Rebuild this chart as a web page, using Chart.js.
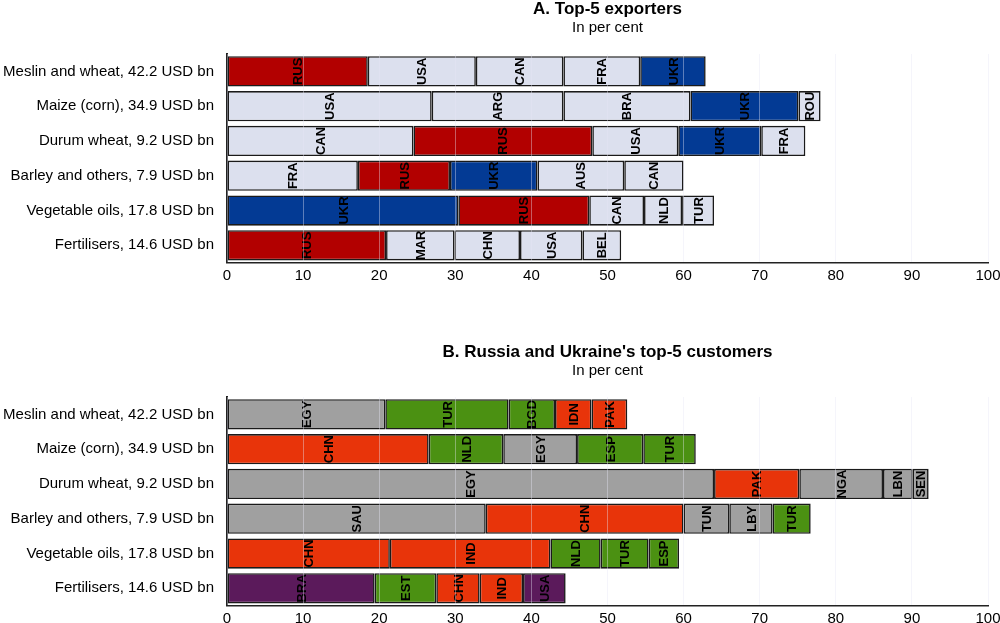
<!DOCTYPE html>
<html>
<head>
<meta charset="utf-8">
<script src="https://cdn.jsdelivr.net/npm/chart.js@4/dist/chart.umd.min.js"></script>
<style>
  html, body { margin: 0; padding: 0; background: #fff; overflow: hidden; }
  .box { position: absolute; left: 0; width: 1000px; height: 300px; }
</style>
</head>
<body>
<div class="box" style="top:0"><canvas id="exportersChart"></canvas></div>
<div class="box" style="top:343px"><canvas id="customersChart"></canvas></div>
<script>
// Data (shares in per cent)
const categories = [
    'Meslin and wheat, 42.2 USD bn',
    'Maize (corn), 34.9 USD bn',
    'Durum wheat, 9.2 USD bn',
    'Barley and others, 7.9 USD bn',
    'Vegetable oils, 17.8 USD bn',
    'Fertilisers, 14.6 USD bn'
];

const exporterCodes = [
    ['RUS', 'USA', 'CAN', 'FRA', 'UKR'],
    ['USA', 'ARG', 'BRA', 'UKR', 'ROU'],
    ['CAN', 'RUS', 'USA', 'UKR', 'FRA'],
    ['FRA', 'RUS', 'UKR', 'AUS', 'CAN'],
    ['UKR', 'RUS', 'CAN', 'NLD', 'TUR'],
    ['RUS', 'MAR', 'CHN', 'USA', 'BEL']
];
const exporterShares = [
    [18.5, 14.2, 11.5, 10.1, 8.6],
    [26.9, 17.3, 16.7, 14.2, 2.9],
    [24.5, 23.5, 11.3, 10.9, 5.8],
    [17.2, 12.1, 11.5, 11.4, 7.8],
    [30.4, 17.2, 7.2, 5.0, 4.2],
    [20.9, 9.0, 8.6, 8.2, 5.1]
];

const customerCodes = [
    ['EGY', 'TUR', 'BGD', 'IDN', 'PAK'],
    ['CHN', 'NLD', 'EGY', 'ESP', 'TUR'],
    ['EGY', 'PAK', 'NGA', 'LBN', 'SEN'],
    ['SAU', 'CHN', 'TUN', 'LBY', 'TUR'],
    ['CHN', 'IND', 'NLD', 'TUR', 'ESP'],
    ['BRA', 'EST', 'CHN', 'IND', 'USA']
];
const customerShares = [
    [20.8, 16.2, 6.1, 4.8, 4.7],
    [26.5, 9.8, 9.7, 8.7, 6.9],
    [64.0, 11.2, 11.0, 3.9, 2.1],
    [34.0, 26.0, 6.0, 5.7, 5.0],
    [21.4, 21.1, 6.6, 6.3, 4.0],
    [19.4, 8.1, 5.7, 5.7, 5.6]
];

// Colours
const LIGHT = '#dce0ee';
const exporterColours = { RUS: '#b20000', UKR: '#033a94' };
const GREY = '#a0a0a0', GREEN = '#4b9112', ORANGE = '#e8340a', PURPLE = '#5b1a5b';
const customerColours = {
    EGY: GREY, SAU: GREY, TUN: GREY, LBY: GREY, NGA: GREY, LBN: GREY, SEN: GREY,
    TUR: GREEN, BGD: GREEN, NLD: GREEN, ESP: GREEN, EST: GREEN,
    CHN: ORANGE, IND: ORANGE, IDN: ORANGE, PAK: ORANGE,
    BRA: PURPLE, USA: PURPLE
};

const FONT = "'Liberation Sans', Arial, sans-serif";

// draws the country code rotated inside each segment
const segmentLabels = {
    id: 'segmentLabels',
    afterDatasetsDraw(chart) {
        const ctx = chart.ctx;
        ctx.save();
        ctx.font = 'bold 13px ' + FONT;
        ctx.fillStyle = '#000';
        ctx.textAlign = 'center';
        ctx.textBaseline = 'middle';
        chart.data.datasets.forEach((ds, i) => {
            chart.getDatasetMeta(i).data.forEach((bar, j) => {
                const p = bar.getProps(['x', 'base', 'y'], true);
                ctx.save();
                ctx.translate((p.x + p.base) / 2, p.y);
                ctx.rotate(-Math.PI / 2);
                ctx.fillText(ds.codes[j], 0, 1);
                ctx.restore();
            });
        });
        ctx.restore();
    }
};

function buildDatasets(codes, shares, colours, fallback) {
    const sets = [];
    for (let r = 0; r < 5; r++) {
        const c = codes.map(row => row[r]);
        sets.push({
            data: shares.map(row => row[r]),
            codes: c,
            backgroundColor: c.map(k => colours[k] || fallback),
            borderColor: '#1a1a1a',
            borderWidth: 1.6,
            borderSkipped: false,
            barPercentage: 0.87,
            categoryPercentage: 1
        });
    }
    return sets;
}

function makeChart(id, title, codes, shares, colours, fallback) {
    const ctx = document.getElementById(id).getContext('2d');
    return new Chart(ctx, {
        type: 'bar',
        data: {
            labels: categories,
            datasets: buildDatasets(codes, shares, colours, fallback)
        },
        plugins: [segmentLabels],
        options: {
            indexAxis: 'y',
            responsive: true,
            maintainAspectRatio: false,
            animation: false,
            layout: { padding: { top: 0, right: 12, bottom: 20, left: 0 } },
            plugins: {
                legend: { display: false },
                tooltip: { enabled: false },
                title: {
                    display: true,
                    text: title,
                    fullSize: false,
                    color: '#000',
                    font: { family: FONT, size: 17, weight: 'bold', lineHeight: 1 },
                    padding: { top: 1, bottom: 1 }
                },
                subtitle: {
                    display: true,
                    text: 'In per cent',
                    fullSize: false,
                    color: '#000',
                    font: { family: FONT, size: 15, lineHeight: 1 },
                    padding: { top: 1, bottom: 19 }
                }
            },
            scales: {
                x: {
                    stacked: true,
                    min: 0,
                    max: 100,
                    ticks: { stepSize: 10, color: '#000', padding: 4, font: { family: FONT, size: 15 } },
                    grid: { color: 'rgba(230,230,245,0.4)', drawTicks: false, z: 1 },
                    border: { color: '#222', width: 1.5, z: 1 },
                    afterFit: s => { s.height = 17.3; s.paddingLeft = 0; s.paddingRight = 0; }
                },
                y: {
                    stacked: true,
                    ticks: { color: '#000', padding: 13, font: { family: FONT, size: 15 } },
                    grid: { display: false, drawTicks: false },
                    border: { color: '#222', width: 2 },
                    afterFit: s => { s.width = 227; s.paddingTop = 0; s.paddingBottom = 0; }
                }
            }
        }
    });
}

makeChart('exportersChart', 'A. Top-5 exporters', exporterCodes, exporterShares, exporterColours, LIGHT);
makeChart('customersChart', "B. Russia and Ukraine's top-5 customers", customerCodes, customerShares, customerColours, LIGHT);
</script>
</body>
</html>
